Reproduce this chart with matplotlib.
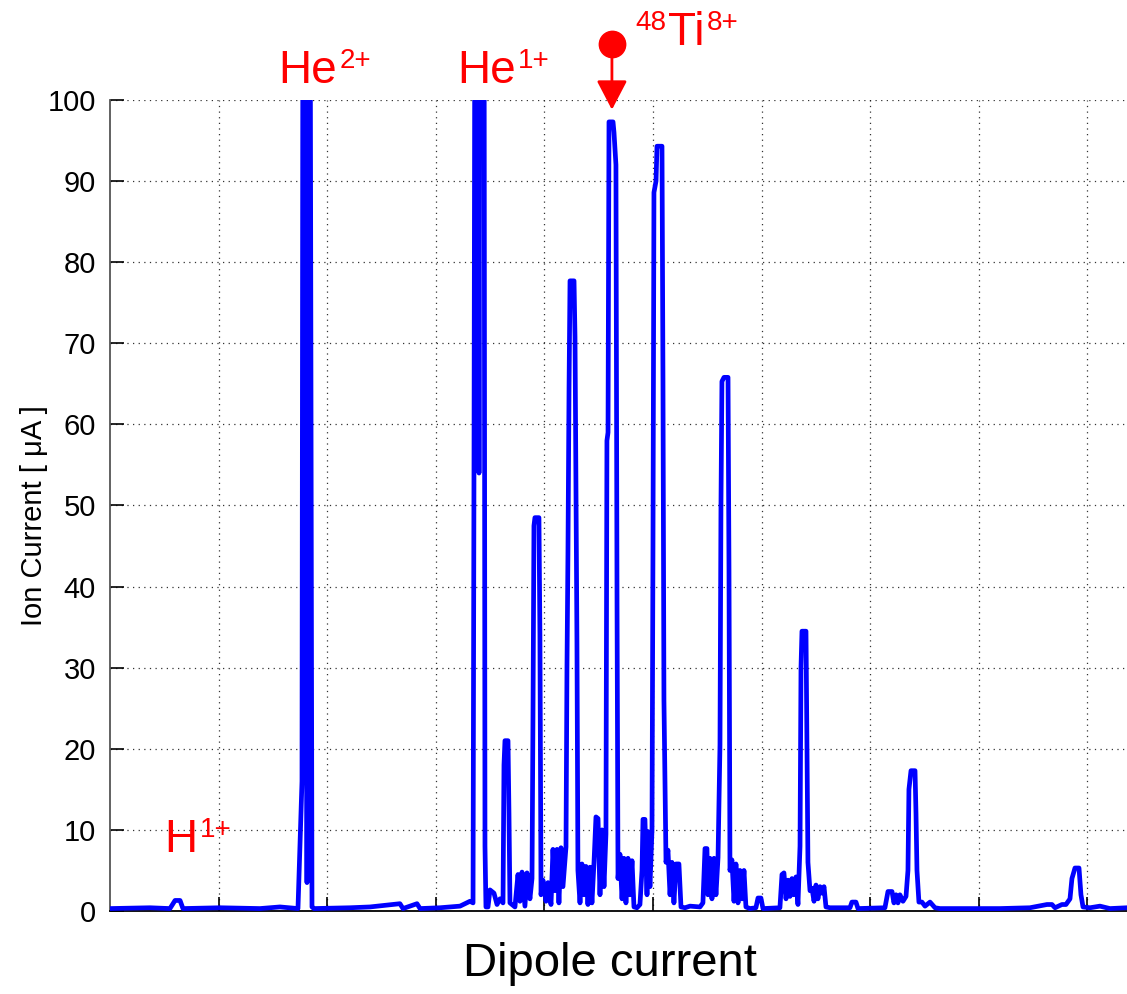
import matplotlib
matplotlib.use("Agg")
import matplotlib.pyplot as plt

plt.rcParams["font.family"] = ["Liberation Sans", "DejaVu Sans"]

# dipole scan (a.u.) and measured ion current (uA); values above 100 are off-scale
dipole_current = [
    0.00, 3.68, 5.52, 5.99, 6.45, 6.72, 10.13, 13.81, 15.65, 17.31,
    17.68, 17.77, 18.05, 18.14, 18.23, 18.42, 18.51, 18.60, 18.78, 22.10,
    23.94, 26.70, 26.98, 28.27, 28.55, 30.39, 32.23, 33.15, 33.43, 33.52,
    33.61, 33.89, 33.98, 34.07, 34.44, 34.53, 34.62, 34.81, 34.99, 35.36,
    35.64, 35.91, 36.19, 36.28, 36.37, 36.65, 36.74, 36.83, 37.02, 37.29,
    37.57, 37.75, 37.94, 38.21, 38.40, 38.67, 38.86, 38.95, 39.04, 39.13,
    39.50, 39.59, 39.69, 39.87, 40.15, 40.33, 40.61, 40.79, 40.98, 41.16,
    41.34, 41.53, 41.71, 41.99, 42.08, 42.17, 42.27, 42.36, 42.73, 42.82,
    43.00, 43.09, 43.28, 43.46, 43.65, 43.83, 44.01, 44.20, 44.38, 44.57,
    44.75, 44.94, 45.12, 45.30, 45.49, 45.67, 45.76, 45.86, 45.95, 46.32,
    46.41, 46.59, 46.69, 46.78, 46.96, 47.15, 47.33, 47.51, 47.70, 47.88,
    48.07, 48.25, 48.53, 48.80, 48.99, 49.08, 49.26, 49.45, 49.54, 49.72,
    49.91, 50.00, 50.09, 50.28, 50.37, 50.83, 50.92, 51.01, 51.20, 51.38,
    51.57, 51.75, 51.93, 52.12, 52.39, 52.58, 52.95, 53.41, 54.33, 54.60,
    54.79, 54.97, 55.06, 55.25, 55.43, 55.62, 55.80, 55.99, 56.17, 56.26,
    56.35, 56.54, 56.91, 57.00, 57.09, 57.27, 57.46, 57.64, 57.83, 58.01,
    58.20, 58.38, 58.56, 58.93, 59.48, 59.67, 59.94, 60.13, 61.69, 61.88,
    62.06, 62.25, 62.43, 62.62, 62.80, 62.98, 63.17, 63.35, 63.54, 63.63,
    63.72, 64.09, 64.18, 64.27, 64.46, 64.64, 64.83, 65.01, 65.19, 65.38,
    65.56, 65.75, 65.93, 66.30, 68.14, 68.32, 68.69, 68.88, 71.36, 71.64,
    72.01, 72.19, 72.38, 72.56, 72.74, 73.02, 73.30, 73.48, 73.57, 73.76,
    74.13, 74.22, 74.31, 74.49, 74.77, 75.05, 75.51, 75.97, 76.43, 81.95,
    84.71, 86.28, 86.74, 87.02, 87.66, 88.03, 88.40, 88.58, 88.86, 89.23,
    89.41, 89.60, 90.24, 91.16, 92.08, 93.65,
]
ion_current = [
    0.3, 0.4, 0.3, 1.3, 1.3, 0.3, 0.4, 0.3, 0.5, 0.3,
    16, 125, 125, 3.5, 125, 125, 60, 0.5, 0.3, 0.4,
    0.5, 0.9, 0.3, 0.9, 0.3, 0.4, 0.6, 1.2, 1.0, 56,
    125, 125, 54, 125, 125, 8, 0.5, 0.5, 2.6, 2.2,
    0.8, 1.5, 1.0, 18, 21, 21, 12, 1.0, 0.8, 0.5,
    4.5, 1.2, 4.8, 0.6, 4.7, 1.5, 4.0, 24, 47.5, 48.5,
    48.5, 34, 2.0, 3.8, 1.2, 3.5, 0.8, 7.6, 2.5, 7.6,
    1.0, 7.8, 3.0, 7.9, 30, 44, 64.5, 77.7, 77.7, 70.8,
    33, 5.0, 1.0, 5.8, 2.0, 5.5, 0.8, 5.4, 1.0, 6.0,
    11.6, 11.4, 2.0, 10, 3.0, 9.5, 58, 59, 97.3, 97.3,
    96, 92, 37.7, 4.0, 7.0, 1.5, 6.5, 1.0, 6.5, 2.0,
    6.2, 0.5, 0.4, 0.8, 5.0, 11.3, 11.3, 2.0, 9.8, 3.0,
    10, 45, 88.6, 90, 94.3, 94.3, 65.6, 26, 6.0, 7.5,
    2.0, 6.0, 1.0, 5.8, 5.8, 0.5, 0.4, 0.6, 0.5, 1.0,
    7.7, 7.7, 2.0, 6.5, 1.5, 6.5, 2.0, 6.6, 20.5, 50,
    65.3, 65.8, 65.8, 42, 5.0, 6.3, 1.2, 5.8, 1.0, 5.0,
    1.5, 5.0, 0.5, 0.3, 0.4, 1.6, 1.6, 0.3, 0.4, 4.5,
    4.7, 1.5, 3.8, 1.8, 4.0, 2.0, 4.2, 0.8, 8.0, 30,
    34.5, 34.5, 20, 6.0, 2.5, 2.8, 1.2, 3.2, 1.5, 3.0,
    2.2, 3.0, 0.5, 0.4, 0.4, 1.1, 1.1, 0.3, 0.4, 2.4,
    2.4, 1.0, 2.0, 1.0, 2.0, 1.2, 1.8, 5.0, 15, 17.3,
    17.3, 12, 5.0, 1.1, 1.1, 0.6, 1.1, 0.4, 0.3, 0.3,
    0.4, 0.8, 0.8, 0.4, 0.8, 0.8, 1.5, 4.0, 5.3, 5.3,
    2.0, 0.5, 0.4, 0.6, 0.3, 0.4,
]

# peak labels: (prefix sup, main text, sup, x, y)
peak_labels = [
    ("", "H", "1+", 4.97, 7.3),
    ("", "He", "2+", 15.47, 102.1),
    ("", "He", "1+", 31.95, 102.1),
    ("48", "Ti", "8+", 51.38, 106.8),
]
marker_x, marker_y, arrow_tip_y = 46.22, 106.9, 98.8

fig = plt.figure(figsize=(11.27, 9.94), dpi=100)
ax = fig.add_axes([0.0976, 0.0835, 0.9024, 0.8159])

ax.plot(dipole_current, ion_current, color="#0000FF", lw=3.4, zorder=3)

ax.set_xlim(0, 93.65)
ax.set_ylim(0, 100)
ax.set_xticks(range(10, 100, 10))
ax.set_xticklabels([])
ax.set_yticks(range(0, 101, 10))
ax.tick_params(axis="both", direction="in", length=10, width=1.2, labelsize=21, pad=10)
ax.grid(True, color="black", linestyle=(0, (1, 3.5)), linewidth=0.9, alpha=0.8)
ax.set_axisbelow(True)

for side in ["top", "right"]:
    ax.spines[side].set_visible(False)
ax.spines["left"].set_color("#555555")
ax.spines["left"].set_linewidth(1.3)
ax.spines["bottom"].set_linewidth(1.3)

ax.set_ylabel("Ion Current [ \u03bcA ]", fontsize=21)
ax.yaxis.set_label_coords(-0.061, 0.487)
ax.set_xlabel("Dipole current", fontsize=34)
ax.xaxis.set_label_coords(0.4916, -0.038)

# labels: main text, then superscripts placed from its measured width
main_texts = []
for pre, txt, sup, x, y in peak_labels:
    t = ax.text(x, y, txt, color="red", fontsize=33, ha="left", va="baseline", clip_on=False)
    main_texts.append(t)

renderer = fig.canvas.get_renderer()
px2pt = 72.0 / fig.dpi
for t, (pre, txt, sup, x, y) in zip(main_texts, peak_labels):
    w = t.get_window_extent(renderer).width * px2pt
    ax.annotate(sup, xy=(x, y), xytext=(w + 2, 11), textcoords="offset points",
                color="red", fontsize=20, ha="left", va="baseline", annotation_clip=False)
    if pre:
        ax.annotate(pre, xy=(x, y), xytext=(-1.5, 11), textcoords="offset points",
                    color="red", fontsize=20, ha="right", va="baseline", annotation_clip=False)

ax.plot(marker_x, marker_y, "o", color="red", ms=19, clip_on=False, zorder=5)
ax.annotate("", xy=(marker_x, arrow_tip_y), xytext=(marker_x, marker_y),
            arrowprops=dict(arrowstyle="-|>,head_length=0.9,head_width=0.47", color="red",
                            lw=2, shrinkA=0, shrinkB=0, mutation_scale=20),
            annotation_clip=False)

fig.savefig("out.png", dpi=100)
